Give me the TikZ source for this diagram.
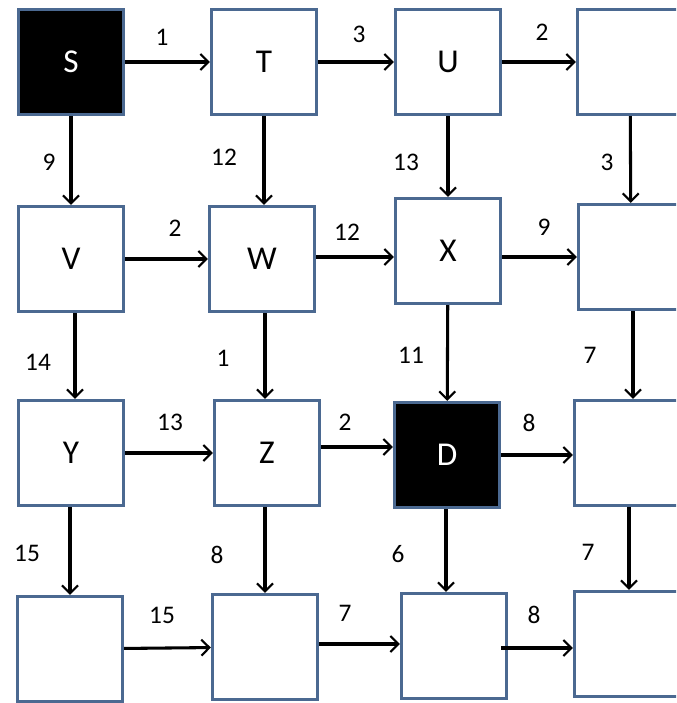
\documentclass[tikz,border=0pt]{standalone}
\usepackage{fontspec}
\setmainfont{Carlito}
\usetikzlibrary{arrows.meta}
\definecolor{boxblue}{RGB}{75,105,145}

\begin{document}
\begin{tikzpicture}[x=0.75pt,y=-0.75pt,>={Straight Barb[length=6pt,width=12pt,line width=1.6pt]}]
  \tikzstyle{cell}=[draw=boxblue,line width=2.2pt,fill=white,minimum width=79pt,minimum height=79pt,inner sep=0pt,font=\fontsize{25}{28}\selectfont]
  \tikzstyle{goal}=[cell,fill=black,text=white]
  \tikzstyle{link}=[line width=2.3pt,->]
  \tikzstyle{cost}=[font=\fontsize{19}{21}\selectfont]
  \useasboundingbox (0,0) rectangle (676,703);
  \clip (0,0) rectangle (676,703);
  % first row
  \node[goal] (s) at (71,62) {S};
  \node[cell] (t) at (264,62) {T};
  \node[cell] (u) at (448,62) {U};
  \node[cell] (r1) at (630,62) {};
  % second row
  \node[cell] (v) at (71,259) {V};
  \node[cell] (w) at (262,259) {W};
  \node[cell] (x) at (448,251) {X};
  \node[cell] (r2) at (631,257) {};
  % third row
  \node[cell] (y) at (71,453) {Y};
  \node[cell] (z) at (267,453) {Z};
  \node[goal] (d) at (447,455) {D};
  \node[cell] (r3) at (627,453) {};
  % last row
  \node[cell] (b1) at (70,649) {};
  \node[cell] (b2) at (265,647) {};
  \node[cell] (b3) at (454,646) {};
  \node[cell] (b4) at (627,644) {};
  % horizontal links
  \draw[link] (s) -- (t);
  \draw[link] (t) -- (u);
  \draw[link] (u) -- (r1);
  \draw[link] (v) -- (w);
  \draw[link] (w.east) ++(0,-2) coordinate (wx) -- (wx -| x.west);
  \draw[link] (x.east |- r2) -- (r2.west);
  \draw[link] (y) -- (z);
  \draw[link] (z.east) ++(0,-6) coordinate (zd) -- (zd -| d.west);
  \draw[link] (d.east) -- (d.east -| r3.west);
  \draw[link] (b1) -- (b2);
  \draw[link] (b2.east) ++(0,-3) coordinate (bb) -- (bb -| b3.west);
  \draw[link] (b3.east) ++(-7,2) coordinate (bc) -- (bc -| b4.west);
  % vertical links
  \draw[link] (s) -- (v);
  \draw[link] (t.south) -- (t.south |- w.north);
  \draw[link] (u) -- (x);
  \draw[link] (r1) -- (r2);
  \draw[link] (v.south) ++(4,0) coordinate (vy) -- (vy |- y.north);
  \draw[link] (w.south) ++(3,0) coordinate (wz) -- (wz |- z.north);
  \draw[link] (x) -- (d);
  \draw[link] (r2.south) ++(2,0) coordinate (rr) -- (rr |- r3.north);
  \draw[link] (y.south) ++(-1,0) coordinate (yb) -- (yb |- b1.north);
  \draw[link] (z.south) ++(-2,0) coordinate (zb) -- (zb |- b2.north);
  \draw[link] (d.south) ++(-1,0) coordinate (db) -- (db |- b3.north);
  \draw[link] (r3.south) ++(2,0) coordinate (rb) -- (rb |- b4.north);
  % costs
  \node[cost] (c1) at (162,37) {1};
  \node[cost] (c2) at (359,34) {3};
  \node[cost] (c3) at (542,32) {2};
  \node[cost] (c4) at (49,162) {9};
  \node[cost] (c5) at (224,157) {12};
  \node[cost] (c6) at (406,162) {13};
  \node[cost] (c7) at (607,162) {3};
  \node[cost] (c8) at (175,228) {2};
  \node[cost] (c9) at (347,232) {12};
  \node[cost] (c10) at (544,227) {9};
  \node[cost] (c11) at (38,362) {14};
  \node[cost] (c12) at (223,358) {1};
  \node[cost] (c13) at (411,355) {11};
  \node[cost] (c14) at (590,355) {7};
  \node[cost] (c15) at (170,422) {13};
  \node[cost] (c16) at (345,422) {2};
  \node[cost] (c17) at (529,423) {8};
  \node[cost] (c18) at (27,553) {15};
  \node[cost] (c19) at (217,555) {8};
  \node[cost] (c20) at (398,554) {6};
  \node[cost] (c21) at (588,552) {7};
  \node[cost] (c22) at (162,615) {15};
  \node[cost] (c23) at (345,613) {7};
  \node[cost] (c24) at (534,615) {8};
\end{tikzpicture}
\end{document}
